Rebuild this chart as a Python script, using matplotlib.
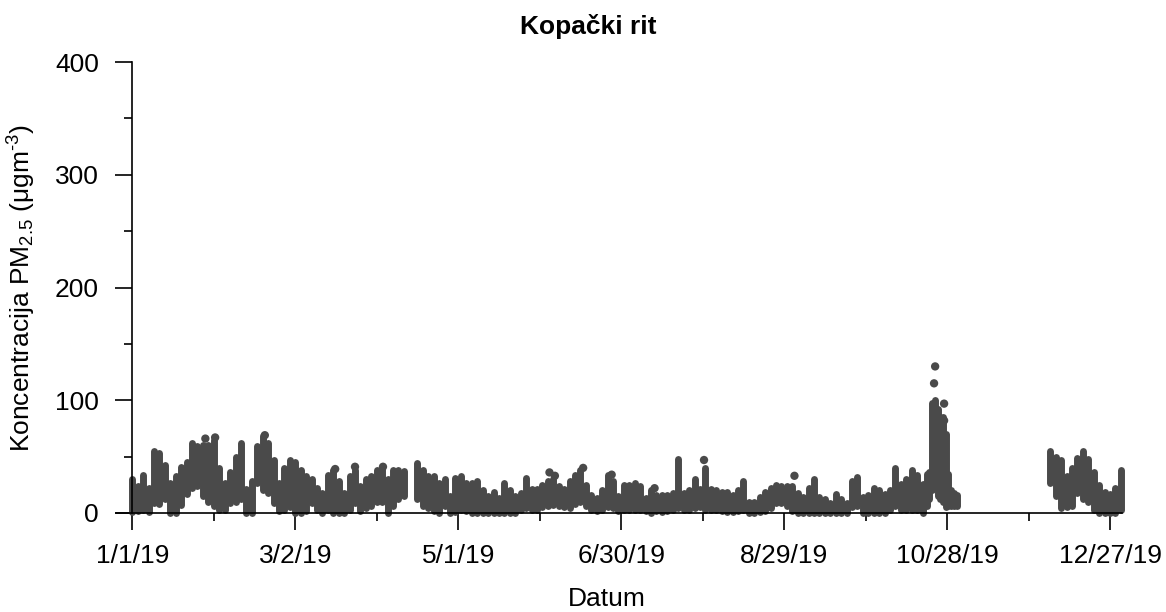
import numpy as np
import pandas as pd
import matplotlib
matplotlib.use('Agg')
import matplotlib.pyplot as plt
from matplotlib.ticker import MultipleLocator

plt.rcParams['font.family'] = ['Liberation Sans', 'DejaVu Sans']
plt.rcParams['mathtext.fontset'] = 'custom'
plt.rcParams['mathtext.rm'] = 'Liberation Sans'
plt.rcParams['mathtext.it'] = 'Liberation Sans:italic'

# days since 1 Jan 2019, with the low and high hourly PM2.5 in each bin
days = [0, 2, 4, 6, 8, 10, 12, 14, 16, 18, 20, 22, 24, 26, 28, 30, 32, 34, 36, 38,
        40, 42, 44, 46, 48, 50, 52, 54, 56, 58, 60, 62, 64, 66, 68, 70, 72, 74, 76, 78,
        80, 82, 84, 86, 88, 90, 92, 94, 96, 98, 100,
        105, 107, 109, 111, 113, 115, 117, 119, 121, 123, 125, 127, 129, 131, 133, 135,
        137, 139, 141, 143, 145, 147, 149, 151, 153, 155, 157, 159, 161, 163, 165, 167,
        169, 171, 173, 175, 177, 179, 181, 183, 185, 187, 189, 191, 193, 195, 197, 199,
        201, 203, 205, 207, 209, 211, 213, 215, 217, 219, 221, 223, 225, 227, 229, 231,
        233, 235, 237, 239, 241, 243, 245, 247, 249, 251, 253, 255, 257, 259, 261, 263,
        265, 267, 269, 271, 273, 275, 277, 279, 281, 283, 285, 287, 289, 291,
        292.5, 293.5, 294.5, 295.5, 296.5, 297.5, 298.5, 299.5, 300.5, 301.5, 302.5, 303.5,
        338, 340, 342, 344, 346, 348, 350, 352, 354, 356, 358, 360, 362, 364]
low = [1, 2, 3, 1, 9, 8, 12, 0, 0, 7, 17, 22, 24, 15, 10, 6, 3, 3, 9, 10,
       12, 0, 0, 27, 20, 18, 9, 2, 3, 5, 0, 0, 2, 9, 3, 0, 3, 0, 0, 0,
       3, 9, 2, 4, 6, 10, 10, 0, 6, 12, 15,
       12, 6, 4, 2, 0, 6, 0, 1, 3, 2, 0, 0, 0, 0, 0, 0,
       0, 0, 0, 3, 4, 3, 3, 5, 6, 7, 6, 5, 4, 8, 10, 6,
       3, 2, 3, 5, 4, 2, 3, 3, 3, 3, 2, 0, 2, 1, 2, 3,
       4, 3, 3, 4, 5, 3, 3, 3, 2, 1, 1, 2, 3, 0, 0, 1,
       2, 4, 9, 9, 6, 2, 0, 0, 0, 0, 0, 0, 0, 0, 0, 0,
       5, 6, 0, 0, 0, 0, 0, 3, 6, 3, 3, 3, 3, 0,
       6, 12, 20, 25, 15, 12, 10, 5, 6, 6, 6, 6,
       27, 15, 4, 5, 6, 18, 12, 10, 3, 0, 0, 0, 0, 3]
high = [30, 24, 34, 22, 55, 53, 43, 27, 33, 41, 45, 62, 59, 60, 60, 65, 40, 27, 36, 50,
        62, 21, 28, 59, 68, 62, 47, 27, 40, 47, 45, 38, 33, 30, 22, 18, 34, 38, 28, 18,
        33, 38, 24, 30, 33, 38, 39, 30, 38, 38, 37,
        44, 38, 33, 33, 27, 30, 15, 31, 33, 27, 27, 28, 20, 15, 19, 13,
        27, 20, 15, 18, 31, 21, 21, 25, 28, 30, 24, 21, 28, 34, 38, 25,
        16, 13, 20, 34, 28, 15, 25, 25, 27, 24, 13, 20, 16, 16, 16, 18,
        48, 18, 20, 30, 21, 40, 21, 20, 19, 19, 16, 20, 28, 10, 10, 14,
        19, 22, 25, 24, 24, 24, 18, 14, 22, 30, 14, 12, 9, 17, 12, 9,
        28, 32, 14, 16, 22, 20, 17, 20, 40, 26, 30, 38, 34, 26,
        35, 36, 98, 100, 92, 85, 85, 70, 35, 20, 18, 16,
        55, 50, 47, 33, 40, 49, 55, 48, 36, 25, 19, 17, 22, 38]

# isolated readings that stand above the bulk
outlier_days = [26.9, 30.5, 48.8, 74.7, 82.0, 92.3, 153.6, 155.6, 166.0, 176.5,
                192.3, 210.5, 243.8, 295.2, 295.6, 298.9, 298.9]
outlier_vals = [66, 67, 69, 39, 41, 41, 36, 33, 40, 34,
                22, 47, 33, 115, 130, 97, 82]

tick_labels = ['1/1/19', '3/2/19', '5/1/19', '6/30/19', '8/29/19', '10/28/19', '12/27/19']

start = pd.Timestamp('2019-01-01')
x = start + pd.to_timedelta(days, unit='D')
xo = start + pd.to_timedelta(outlier_days, unit='D')
tick_pos = pd.to_datetime(tick_labels, format='%m/%d/%y')
minor_pos = tick_pos[:-1] + pd.Timedelta(days=30)

col = '#4a4a4a'

fig = plt.figure(figsize=(11.66, 6.12), dpi=100)
ax = fig.add_axes([116 / 1166, 99 / 612, 1006 / 1166, 451 / 612])

ax.vlines(x, low, high, color=col, linewidth=5, capstyle='round', clip_on=False)
ax.scatter(xo, outlier_vals, s=36, color=col, edgecolors='none', clip_on=False)

ax.set_xlim(start - pd.Timedelta(days=6), start + pd.Timedelta(days=364.4))
ax.set_ylim(0, 400)

ax.spines['top'].set_visible(False)
ax.spines['right'].set_visible(False)
ax.spines['left'].set_position(('data', matplotlib.dates.date2num(start)))
for s in ['left', 'bottom']:
    ax.spines[s].set_linewidth(1.2)

ax.set_xticks(tick_pos)
ax.set_xticklabels(tick_labels)
ax.set_xticks(minor_pos, minor=True)
ax.yaxis.set_major_locator(MultipleLocator(100))
ax.yaxis.set_minor_locator(MultipleLocator(50))

ax.tick_params(which='major', direction='out', length=12, width=1.2, labelsize=19)
ax.tick_params(which='minor', direction='out', length=6, width=1.2)
ax.tick_params(axis='y', pad=12)
ax.tick_params(axis='x', pad=10)

fig.text(588 / 1166, 1 - 34 / 612, 'Kopački rit', ha='center', va='baseline',
         fontsize=19, fontweight='bold')
fig.text(607 / 1166, 1 - 606 / 612, 'Datum', ha='center', va='baseline', fontsize=19)
fig.text(22 / 1166, 1 - 288 / 612, 'Koncentracija PM$_{2.5}$ (μgm$^{\\text{-}3}$)',
         rotation=90, ha='center', va='center', fontsize=19)

fig.savefig('out.png', dpi=100)
